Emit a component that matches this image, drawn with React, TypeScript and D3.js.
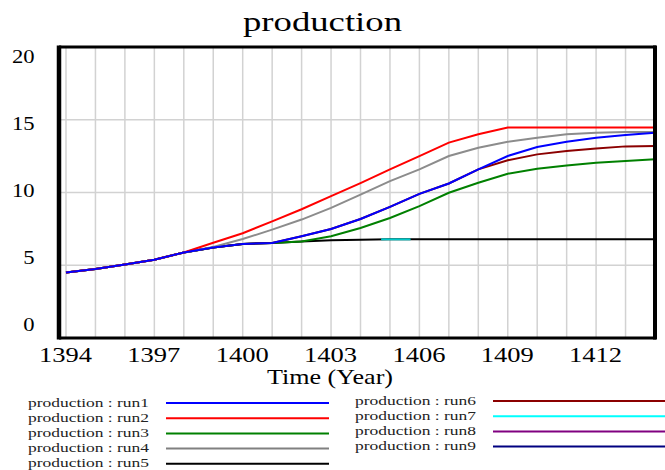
import { useEffect, useRef } from 'react'
import * as d3 from 'd3'

// years on the time axis (one point per year)
const years = [1394, 1395, 1396, 1397, 1398, 1399, 1400, 1401, 1402, 1403, 1404, 1405, 1406, 1407, 1408, 1409, 1410, 1411, 1412, 1413, 1414]

const run1 = [4.5, 4.75, 5.05, 5.38, 5.88, 6.22, 6.46, 6.53, 6.99, 7.49, 8.18, 9.01, 9.91, 10.62, 11.59, 12.51, 13.13, 13.49, 13.77, 13.95, 14.11]
const run2 = [4.5, 4.75, 5.05, 5.38, 5.88, 6.55, 7.2, 8.02, 8.85, 9.75, 10.65, 11.59, 12.5, 13.43, 14.0, 14.46, 14.46, 14.46, 14.46, 14.46, 14.46]
const run3 = [4.5, 4.75, 5.05, 5.38, 5.88, 6.22, 6.46, 6.53, 6.64, 6.99, 7.56, 8.25, 9.06, 9.98, 10.67, 11.29, 11.63, 11.86, 12.05, 12.16, 12.28]
const run4 = [4.5, 4.75, 5.05, 5.38, 5.88, 6.25, 6.8, 7.45, 8.14, 8.94, 9.86, 10.78, 11.59, 12.51, 13.08, 13.49, 13.77, 14.0, 14.11, 14.16, 14.16]
const run5 = [4.5, 4.75, 5.05, 5.38, 5.88, 6.22, 6.46, 6.53, 6.64, 6.72, 6.76, 6.78, 6.78, 6.78, 6.78, 6.78, 6.78, 6.78, 6.78, 6.78, 6.78]
const run6 = [4.5, 4.75, 5.05, 5.38, 5.88, 6.22, 6.46, 6.53, 6.99, 7.49, 8.18, 9.01, 9.91, 10.62, 11.59, 12.21, 12.62, 12.85, 13.03, 13.17, 13.2]
// run7 only shows as a short piece on top of run5
const run7Years = [1404.7, 1405.7]
const run7 = [6.78, 6.78]

const yTicks = [0, 5, 10, 15, 20]
const xTicks = [1394, 1397, 1400, 1403, 1406, 1409, 1412]

const legendLeft = [
  { label: 'production : run1', color: '#0000ff' },
  { label: 'production : run2', color: '#ff0000' },
  { label: 'production : run3', color: '#008000' },
  { label: 'production : run4', color: '#808080' },
  { label: 'production : run5', color: '#000000' },
]
const legendRight = [
  { label: 'production : run6', color: '#8b0000' },
  { label: 'production : run7', color: '#00ffff' },
  { label: 'production : run8', color: '#800080' },
  { label: 'production : run9', color: '#000080' },
]

const FONT = 'Liberation Serif'

export default function App() {
  const svgRef = useRef<SVGSVGElement | null>(null)

  useEffect(() => {
    if (!svgRef.current) return
    const width = 665
    const height = 470
    const left = 59
    const right = 655
    const top = 47
    const bottom = 338

    const svg = d3.select(svgRef.current)
    svg.selectAll('*').remove()
    svg.attr('width', width).attr('height', height).style('background', '#fff')
      .attr('font-family', FONT)

    const x = d3.scaleLinear().domain([1394, 1414]).range([66, right])
    const y = d3.scaleLinear().domain([0, 20]).range([bottom, top])
    // the tick labels sit on their own slightly tighter scale
    const yLab = d3.scaleLinear().domain([0, 20]).range([331, 63])

    // grid
    const grid = svg.append('g').attr('stroke', '#d2d2d2').attr('stroke-width', 1.5)
    grid.selectAll('line.v')
      .data(d3.range(1394, 1414))
      .enter()
      .append('line')
      .attr('x1', d => x(d))
      .attr('x2', d => x(d))
      .attr('y1', top)
      .attr('y2', bottom)
    grid.selectAll('line.h')
      .data([5, 10, 15])
      .enter()
      .append('line')
      .attr('x1', left)
      .attr('x2', right)
      .attr('y1', d => y(d))
      .attr('y2', d => y(d))

    // series
    const series = [
      { t: years, v: run5, color: '#000000' },
      { t: run7Years, v: run7, color: '#00c8c8' },
      { t: years, v: run3, color: '#008000' },
      { t: years, v: run6, color: '#8b0000' },
      { t: years, v: run4, color: '#8c8c8c' },
      { t: years, v: run2, color: '#ff0000' },
      { t: years, v: run1, color: '#0000ff' },
    ]
    const line = d3.line<[number, number]>()
      .x(d => x(d[0]))
      .y(d => y(d[1]))

    series.forEach(s => {
      svg.append('path')
        .datum(s.t.map((t, i) => [t, s.v[i]] as [number, number]))
        .attr('d', line)
        .attr('fill', 'none')
        .attr('stroke', s.color)
        .attr('stroke-width', 2)
    })

    // frame
    const frame = svg.append('g').attr('stroke', '#000')
    frame.append('line').attr('x1', left).attr('x2', left).attr('y1', top - 1.5).attr('y2', bottom + 1.5).attr('stroke-width', 4.5)
    frame.append('line').attr('x1', left).attr('x2', right + 1).attr('y1', top).attr('y2', top).attr('stroke-width', 3)
    frame.append('line').attr('x1', left).attr('x2', right + 1).attr('y1', bottom).attr('y2', bottom).attr('stroke-width', 3)
    frame.append('line').attr('x1', right).attr('x2', right).attr('y1', top - 1.5).attr('y2', bottom + 1.5).attr('stroke-width', 4)

    // title
    svg.append('text')
      .attr('x', 322.5)
      .attr('y', 31)
      .attr('text-anchor', 'middle')
      .attr('textLength', 159)
      .attr('lengthAdjust', 'spacingAndGlyphs')
      .attr('font-size', 28)
      .text('production')

    // y tick labels
    svg.selectAll('text.ylab')
      .data(yTicks)
      .enter()
      .append('text')
      .attr('x', 34.5)
      .attr('y', d => yLab(d))
      .attr('text-anchor', 'end')
      .attr('textLength', d => String(d).length * 11.3)
      .attr('lengthAdjust', 'spacingAndGlyphs')
      .attr('font-size', 19)
      .text(d => String(d))

    // x tick labels
    svg.selectAll('text.xlab')
      .data(xTicks)
      .enter()
      .append('text')
      .attr('x', d => x(d) - 0.5)
      .attr('y', 362)
      .attr('text-anchor', 'middle')
      .attr('textLength', 53)
      .attr('lengthAdjust', 'spacingAndGlyphs')
      .attr('font-size', 20.5)
      .text(d => String(d))

    svg.append('text')
      .attr('x', 330)
      .attr('y', 384)
      .attr('text-anchor', 'middle')
      .attr('textLength', 126)
      .attr('lengthAdjust', 'spacingAndGlyphs')
      .attr('font-size', 21)
      .text('Time (Year)')

    // legend
    const drawLegend = (items: { label: string; color: string }[], tx: number, lx1: number, lx2: number, y0: number, step: number) => {
      items.forEach((d, i) => {
        const yy = y0 + i * step
        svg.append('text')
          .attr('x', tx)
          .attr('y', yy + 3.5)
          .attr('textLength', 121)
          .attr('lengthAdjust', 'spacingAndGlyphs')
          .attr('font-size', 12.5)
          .attr('fill', '#222')
          .text(d.label)
        svg.append('line')
          .attr('x1', lx1)
          .attr('x2', lx2)
          .attr('y1', yy)
          .attr('y2', yy)
          .attr('stroke', d.color)
          .attr('stroke-width', 2)
      })
    }
    drawLegend(legendLeft, 28, 166, 329, 403, 15.2)
    drawLegend(legendRight, 355, 493, 665, 401, 15.2)
  }, [])

  return (
    <div style={{ position: 'absolute', left: 0, top: 0 }}>
      <svg ref={svgRef} style={{ display: 'block' }}></svg>
    </div>
  )
}
